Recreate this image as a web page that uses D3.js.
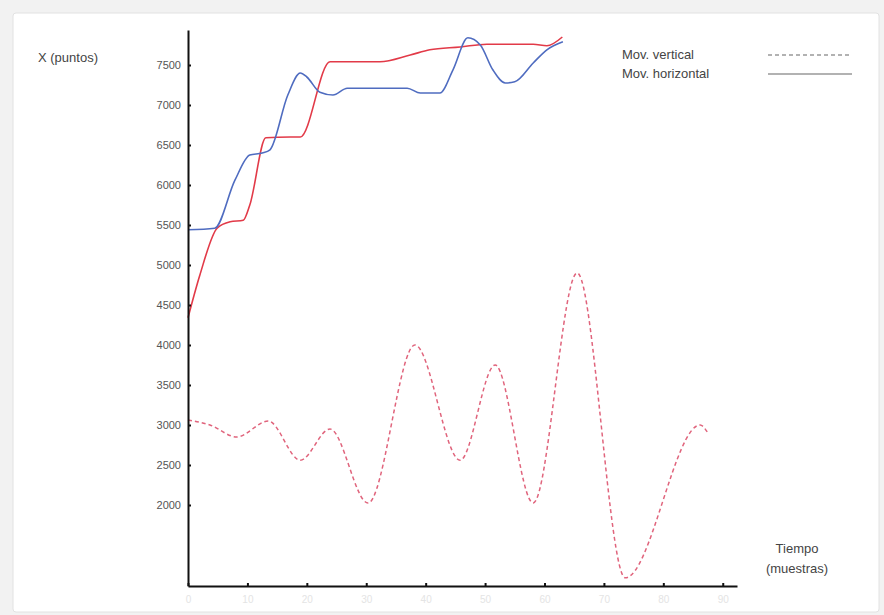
<!DOCTYPE html>
<html>
<head>
<meta charset="utf-8">
<script src="https://cdn.jsdelivr.net/npm/d3@7"></script>
<style>
  body { margin: 0; background: #f2f2f2; }
  text { font-family: "Liberation Sans", Arial, sans-serif; }
</style>
</head>
<body>
<script>
var width = 884;
var height = 615;

// samples (t) and values
var redT = [0, 2, 4.9, 7.1, 9.3, 10.4, 13.1, 17.2, 18.9, 23.9, 32.3, 37.4, 40.7, 45.8, 50.3, 58.1, 60.4, 63];
var redV = [4340, 4875, 5460, 5540, 5560, 5750, 6590, 6600, 6600, 7540, 7540, 7625, 7690, 7725, 7760, 7760, 7740, 7850];

var blueT = [0, 4.5, 7.9, 10.4, 12.5, 13.8, 16.8, 18.9, 20, 22.2, 24.4, 26.8, 36.9, 39.1, 42.4, 44.6, 47.1, 49.2, 51.3, 53.4, 55, 58.1, 60.4, 63.1];
var blueV = [5440, 5460, 6060, 6375, 6400, 6440, 7125, 7400, 7350, 7160, 7125, 7210, 7210, 7150, 7150, 7440, 7840, 7750, 7440, 7275, 7290, 7525, 7690, 7790];

var vertT = [0, 3.7, 8.2, 13.5, 18.9, 23.9, 30.3, 38.2, 45.8, 51.7, 58.1, 65.5, 73.6, 86.2, 87.5];
var vertV = [3062, 3000, 2850, 3050, 2560, 2950, 2025, 4000, 2560, 3750, 2025, 4900, 1090, 3000, 2900];

var yTicks = [2000, 2500, 3000, 3500, 4000, 4500, 5000, 5500, 6000, 6500, 7000, 7500];
var xTicks = [0, 10, 20, 30, 40, 50, 60, 70, 80, 90];
var legendLabels = ["Mov. vertical", "Mov. horizontal"];

var svg = d3.select("body")
    .append("svg")
    .attr("width", width)
    .attr("height", height);

// white panel with a soft border
svg.append("rect")
    .attr("x", 13).attr("y", 13)
    .attr("width", 866).attr("height", 599)
    .attr("rx", 3)
    .attr("fill", "white")
    .attr("stroke", "#e2e2e2");

var x = d3.scaleLinear().domain([0, 92.4]).range([188, 737]);
var y = d3.scaleLinear().domain([987.5, 7937.5]).range([586, 30]);

function zip(ts, vs) {
    return ts.map(function(t, i) { return [t, vs[i]]; });
}

var line = d3.line()
    .x(function(d) { return x(d[0]); })
    .y(function(d) { return y(d[1]); })
    .curve(d3.curveMonotoneX);

svg.append("path")
    .attr("d", line(zip(vertT, vertV)))
    .attr("fill", "none")
    .attr("stroke", "#e0647c")
    .attr("stroke-width", 1.5)
    .attr("stroke-dasharray", "4,3");

svg.append("path")
    .attr("d", line(zip(redT, redV)))
    .attr("fill", "none")
    .attr("stroke", "#e23a48")
    .attr("stroke-width", 1.6);

svg.append("path")
    .attr("d", line(zip(blueT, blueV)))
    .attr("fill", "none")
    .attr("stroke", "#4f6cc0")
    .attr("stroke-width", 1.6);

// axes
var yAxis = svg.append("g")
    .attr("transform", "translate(" + x(0) + ",0)")
    .call(d3.axisLeft(y).tickValues(yTicks).tickFormat(d3.format("d"))
        .tickSizeInner(-3).tickSizeOuter(0).tickPadding(7));

var xAxis = svg.append("g")
    .attr("transform", "translate(0," + y.range()[0] + ")")
    .call(d3.axisBottom(x).tickValues(xTicks).tickFormat(d3.format("d"))
        .tickSizeInner(-3).tickSizeOuter(0).tickPadding(10));

[yAxis, xAxis].forEach(function(g) {
    g.select(".domain").attr("stroke", "#111").attr("stroke-width", 2);
    g.selectAll(".tick line").attr("stroke", "#111").attr("stroke-width", 2);
});
yAxis.selectAll(".tick text")
    .attr("fill", "#555")
    .style("font-size", "11px")
    .style("font-family", "Liberation Sans, Arial, sans-serif");
xAxis.selectAll(".tick text")
    .attr("fill", "#e4e4e4")
    .style("font-size", "10px")
    .style("font-family", "Liberation Sans, Arial, sans-serif");

// axis titles
svg.append("text")
    .attr("x", 38).attr("y", 62)
    .attr("fill", "#444")
    .style("font-size", "13px")
    .text("X (puntos)");

svg.append("text")
    .attr("x", 797).attr("y", 553)
    .attr("text-anchor", "middle")
    .attr("fill", "#444")
    .style("font-size", "13px")
    .text("Tiempo");

svg.append("text")
    .attr("x", 797).attr("y", 573)
    .attr("text-anchor", "middle")
    .attr("fill", "#444")
    .style("font-size", "13px")
    .text("(muestras)");

// legend
var legend = svg.append("g").attr("class", "legend");
legendLabels.forEach(function(lbl, i) {
    var ly = 55 + i * 19;
    legend.append("text")
        .attr("x", 622).attr("y", ly + 4)
        .attr("fill", "#444")
        .style("font-size", "13px")
        .text(lbl);
    legend.append("line")
        .attr("x1", 768).attr("x2", 852)
        .attr("y1", ly).attr("y2", ly)
        .attr("stroke", "#666")
        .attr("stroke-width", 1.2)
        .attr("stroke-dasharray", i === 0 ? "4,3" : null);
});
</script>
</body>
</html>
